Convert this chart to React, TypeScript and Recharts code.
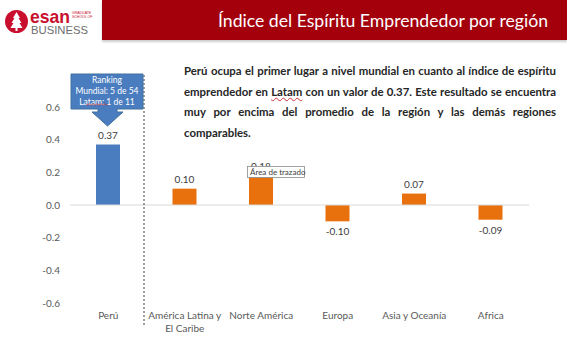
import React from 'react';
import { BarChart, Bar, XAxis, YAxis, ReferenceLine, Cell, LabelList } from 'recharts';

const regions = ['Perú', 'América Latina y\nEl Caribe', 'Norte América', 'Europa', 'Asia y Oceanía', 'Africa'];
const indexValues = [0.37, 0.1, 0.18, -0.1, 0.07, -0.09];
const yTicks = [-0.6, -0.4, -0.2, 0, 0.2, 0.4, 0.6];
const rankingLines = ['Ranking', 'Mundial: 5 de 54', 'Latam: 1 de 11'];

const BLUE = '#4a7cc0';
const ORANGE = '#e8700d';
const FONT = 'Lato, "Open Sans", sans-serif';

const data = regions.map((region, i) => ({ region, value: indexValues[i] }));

function RegionTick(props: any) {
  const { x, y, payload } = props;
  const lines = String(payload.value).split('\n');
  return (
    <text x={x} y={y} textAnchor="middle" fill="#595959" fontSize={10} fontFamily={FONT}>
      {lines.map((line, i) => (
        <tspan key={i} x={x} dy={i === 0 ? 16 : 13}>
          {line}
        </tspan>
      ))}
    </text>
  );
}

function ValueLabel(props: any) {
  const { x, y, width, height, value } = props;
  const top = Math.min(y, y + height);
  const bottom = Math.max(y, y + height);
  const ly = value >= 0 ? top - 6 : bottom + 14;
  return (
    <text x={x + width / 2} y={ly} textAnchor="middle" fill="#404040" fontSize={10} fontFamily={FONT}>
      {Number(value).toFixed(2)}
    </text>
  );
}

const paragraph = [
  'Perú ocupa el primer lugar a nivel mundial en cuanto al índice de espíritu',
  'emprendedor en |Latam| con un valor de 0.37. Este resultado se encuentra',
  'muy por encima del promedio de la región y las demás regiones',
  'comparables.',
];

function squiggly(line: string) {
  const parts = line.split('|');
  return parts.map((p, i) =>
    i % 2 === 1 ? (
      <span key={i} style={{ textDecoration: 'underline wavy #d03030', textDecorationThickness: 1 }}>
        {p}
      </span>
    ) : (
      <span key={i}>{p}</span>
    )
  );
}

export default function App() {
  return (
    <div style={{ position: 'absolute', left: 0, top: 0, width: 567, height: 339, background: '#fff', overflow: 'hidden' }}>
      <style>{'body{margin:0}'}</style>

      {/* header */}
      <div style={{ position: 'absolute', left: 102, top: 0, width: 465, height: 40, background: '#a3000c', boxShadow: '0 2px 2px rgba(0,0,0,0.2)' }} />
      <svg width={567} height={50} style={{ position: 'absolute', left: 0, top: 0 }}>
        <text x={218} y={27} fill="#fff" fontSize={18} fontFamily={FONT} textLength={330} lengthAdjust="spacingAndGlyphs">
          Índice del Espíritu Emprendedor por región
        </text>
        <circle cx={16.5} cy={21.5} r={11.5} fill="#c8102e" />
        <polygon points="16.5,12 20,18 18.5,18 21.5,23 19.5,23 22.5,28 17.5,28 17.5,31 15.5,31 15.5,28 10.5,28 13.5,23 11.5,23 14.5,18 13,18" fill="#fff" />
        <text x={30} y={23} fill="#c8102e" fontSize={19} fontWeight={700} fontFamily="Arial, sans-serif" textLength={40} lengthAdjust="spacingAndGlyphs">
          esan
        </text>
        <text x={72} y={14} fill="#c8102e" fontSize={3.5} fontFamily="Arial, sans-serif">GRADUATE</text>
        <text x={72} y={18} fill="#c8102e" fontSize={3.5} fontFamily="Arial, sans-serif">SCHOOL OF</text>
        <text x={31} y={34} fill="#6d6d6d" fontSize={11.5} fontFamily="Arial, sans-serif" textLength={57} lengthAdjust="spacingAndGlyphs">
          BUSINESS
        </text>
      </svg>

      {/* chart */}
      <div style={{ position: 'absolute', left: 0, top: 0 }}>
        <BarChart width={567} height={339} data={data} margin={{ top: 107, right: 38, bottom: 6, left: 30 }}>
          <YAxis
            type="number"
            domain={[-0.6, 0.6]}
            ticks={yTicks}
            width={40}
            axisLine={false}
            tickLine={false}
            tickSize={0}
            tickMargin={10}
            tickFormatter={(v: number) => v.toFixed(1)}
            tick={{ fill: '#595959', fontSize: 10, fontFamily: FONT }}
          />
          <XAxis
            dataKey="region"
            height={30}
            axisLine={false}
            tickLine={false}
            tickSize={0}
            tickMargin={0}
            interval={0}
            tick={<RegionTick />}
          />
          <ReferenceLine y={0} stroke="#d9d9d9" strokeWidth={1} />
          <Bar dataKey="value" barSize={24} isAnimationActive={false}>
            {data.map((d, i) => (
              <Cell key={d.region} fill={i === 0 ? BLUE : ORANGE} />
            ))}
            <LabelList dataKey="value" content={<ValueLabel />} />
          </Bar>
        </BarChart>
      </div>

      {/* callout + divider */}
      <svg width={567} height={339} style={{ position: 'absolute', left: 0, top: 0, pointerEvents: 'none' }}>
        <line x1={144} y1={75} x2={144} y2={326} stroke="#404040" strokeWidth={1} strokeDasharray="2 2" />
        <polygon
          points="71,74 143,74 143,109 117,109 117,112 123,112 107.5,126 92,112 98,112 98,109 71,109"
          fill="#4a7cc0"
          stroke="#41719c"
          strokeWidth={1}
        />
        {rankingLines.map((line, i) => (
          <text key={line} x={107} y={83 + i * 11} textAnchor="middle" fill="#fff" fontSize={8.5} fontFamily={FONT}>
            {line}
          </text>
        ))}
        <path d="M86,104.5 q1,1.5 2,0 t2,0 t2,0 t2,0 t2,0 t2,0 t2,0 t2,0 t2,0 t2,0 t2,0" stroke="#d03030" strokeWidth={0.7} fill="none" />
        <rect x={247.5} y={166.5} width={57} height={11} fill="#fff" stroke="#8a8a8a" strokeWidth={0.8} />
        <text x={250} y={175} fill="#404040" fontSize={8} fontFamily={FONT}>
          Área de trazado
        </text>
      </svg>

      {/* paragraph */}
      <div style={{ position: 'absolute', left: 184, top: 61, width: 372, fontFamily: FONT, fontWeight: 700, fontSize: 11.4, color: '#262626' }}>
        {paragraph.map((line, i) => (
          <div
            key={i}
            style={{
              height: 20.7,
              lineHeight: '20px',
              textAlign: 'justify',
              textAlignLast: i < paragraph.length - 1 ? 'justify' : 'left',
              whiteSpace: 'nowrap',
            }}
          >
            {squiggly(line)}
          </div>
        ))}
      </div>
    </div>
  );
}
